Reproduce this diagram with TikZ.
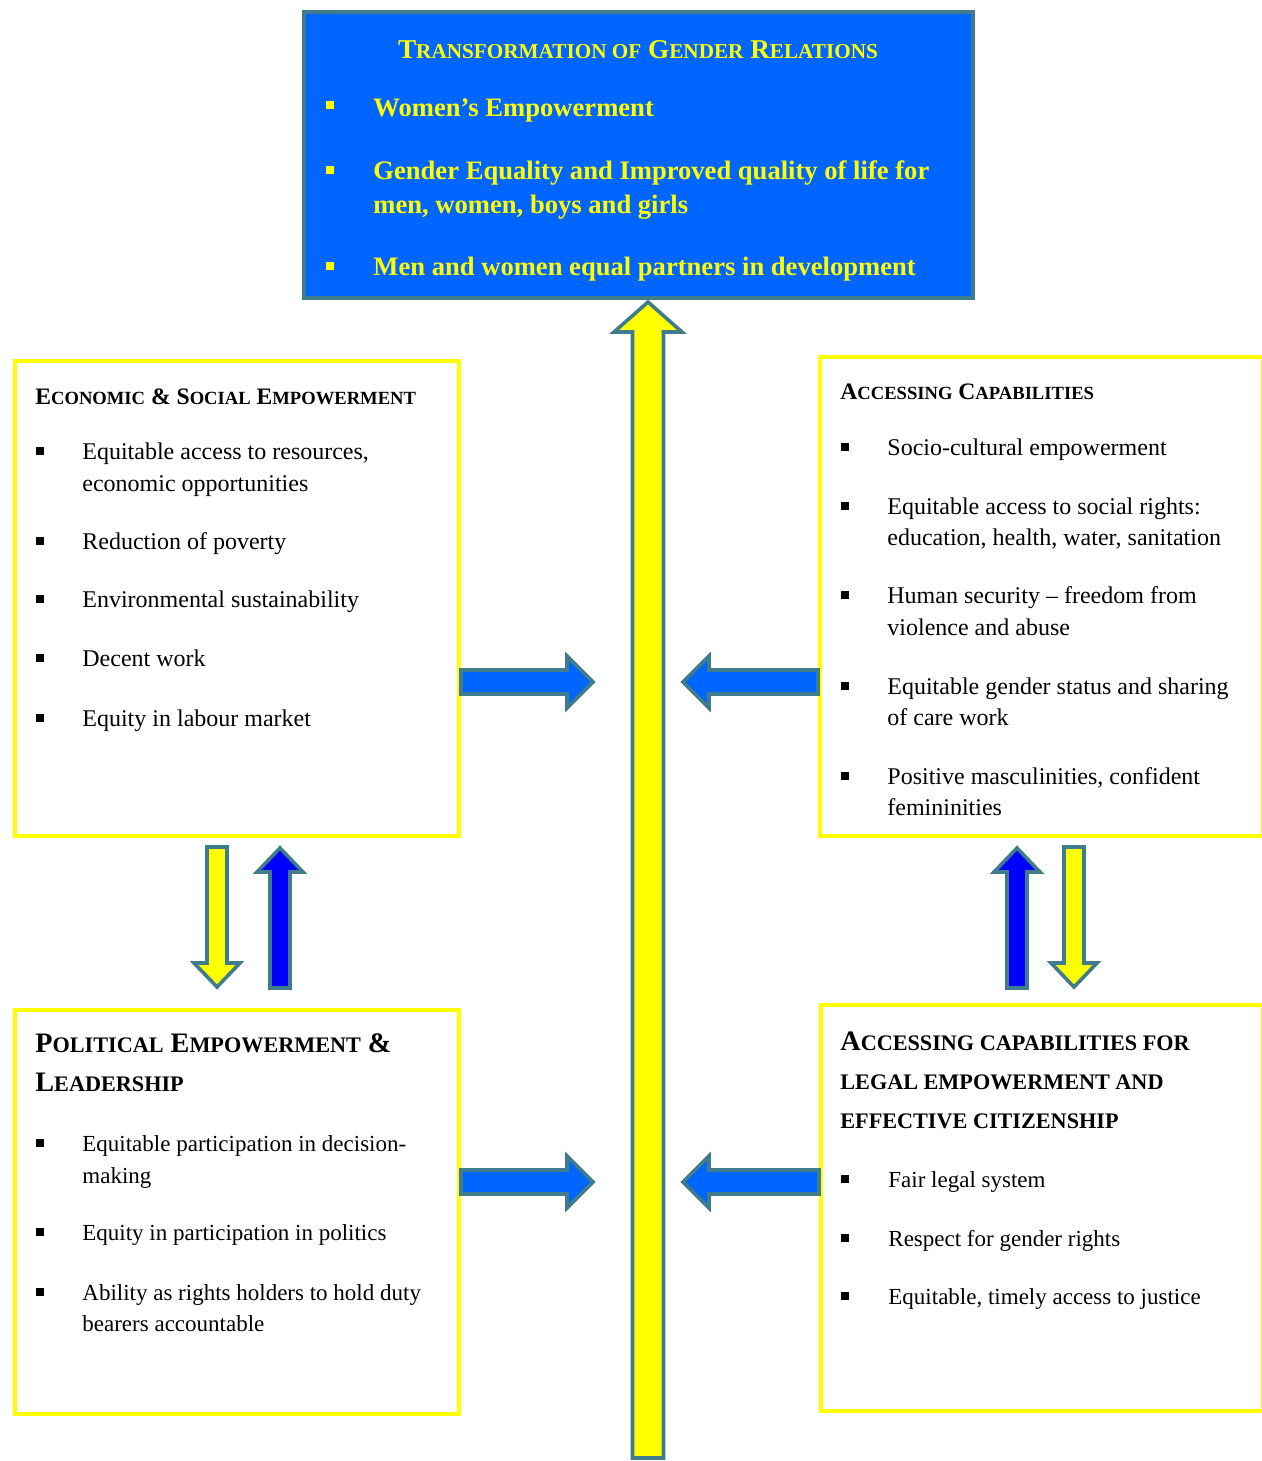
\documentclass[tikz,border=0pt]{standalone}
\usepackage{fontspec}
\setmainfont{Liberation Serif}
\usepackage{tikz}
\usetikzlibrary{positioning, calc}
\usepackage{xcolor}
\definecolor{frameteal}{RGB}{64, 125, 140}
\definecolor{boxblue}{RGB}{0, 102, 255}
\definecolor{deepblue}{RGB}{0, 0, 255}
\definecolor{markyellow}{RGB}{255, 255, 0}

% fake small caps: lower part set in a smaller size
\newcommand{\scsize}{\small}
\newcommand{\smcap}[1]{{\scsize\MakeUppercase{#1}}}

% block arrow from #2 to #3: half shaft #4, half head #5, head length #6
\newcommand{\blockarrow}[6][]{%
  \coordinate (hb) at ($(#3)!#6!(#2)$);
  \draw[#1] ($(#2)!#4!90:(#3)$) -- ($(hb)!#4!90:(#3)$) -- ($(hb)!#5!90:(#3)$) -- (#3)
    -- ($(hb)!#5!-90:(#3)$) -- ($(hb)!#4!-90:(#3)$) -- ($(#2)!#4!-90:(#3)$) -- cycle;
}

\begin{document}
\begin{tikzpicture}[x=0.5pt, y=-0.5pt,
    ybox/.style={draw=markyellow, line width=2pt, fill=white, anchor=north west, inner sep=0pt},
    goalbox/.style={draw=frameteal, line width=2pt, fill=boxblue, anchor=north west, inner sep=0pt},
    flow/.style={draw=frameteal, line width=1.8pt, line join=miter},
    txt/.style={anchor=mid west, inner sep=0pt, yshift=-2pt},
    bodytext/.style={txt, font=\fontsize{12}{14}\selectfont},
    softtext/.style={txt, font=\fontsize{11.5}{14}\selectfont},
    goaltext/.style={txt, text=markyellow, font=\fontsize{13.3}{15}\selectfont\bfseries},
    boxtitle/.style={txt, font=\fontsize{11.8}{13}\selectfont\bfseries\renewcommand{\scsize}{\fontsize{9.3}{10}\selectfont}},
    bigtitle/.style={txt, font=\fontsize{14.1}{15}\selectfont\bfseries\renewcommand{\scsize}{\fontsize{11.1}{12}\selectfont}},
    dot/.style={fill, inner sep=0pt, minimum size=3.8pt}]
  \useasboundingbox (0,0) rectangle (1262,1461);

  % Boxes
  \node[goalbox, minimum width=334.5pt, minimum height=143pt] (goal) at (302,10) {};
  \node[ybox, minimum width=222pt, minimum height=237.5pt] (econ) at (13,359) {};
  \node[ybox, minimum width=221.5pt, minimum height=239.5pt] (capab) at (818,355) {};
  \node[ybox, minimum width=222pt, minimum height=202pt] (polit) at (13,1008) {};
  \node[ybox, minimum width=221pt, minimum height=203pt] (legal) at (819,1003) {};

  % Goal text
  \node[anchor=mid, inner sep=0pt, yshift=-2pt, text=markyellow, font=\fontsize{13.6}{15}\selectfont\bfseries\renewcommand{\scsize}{\fontsize{10.6}{12}\selectfont}] (goal-t) at (638,50)
    {T\smcap{ransformation of} G\smcap{ender} R\smcap{elations}};
  \foreach \y in {105, 170, 266}
    \node[dot, text=markyellow, fill=markyellow] (goal-b\y) at (330,\y) {};
  \foreach \y/\t [count=\i] in {108/{Women’s Empowerment}, 171/{Gender Equality and Improved quality of life for},
      205/{men, women, boys and girls}, 267/{Men and women equal partners in development}}
    \node[goaltext] (goal-\i) at (373,\y) {\t};

  % Economic & social
  \node[boxtitle] (econ-t) at (35,396) {E\smcap{conomic} \& S\smcap{ocial} E\smcap{mpowerment}};
  \foreach \y in {451, 541, 599, 658, 718}
    \node[dot] (econ-b\y) at (40,\y) {};
  \foreach \y/\t [count=\i] in {451/{Equitable access to resources,}, 483/{economic opportunities},
      541/{Reduction of poverty}, 599/{Environmental sustainability}, 658/{Decent work},
      718/{Equity in labour market}}
    \node[bodytext] (econ-\i) at (82,\y) {\t};

  % Capabilities
  \node[boxtitle] (capab-t) at (840,391) {A\smcap{ccessing} C\smcap{apabilities}};
  \foreach \y in {447, 506, 595, 686, 776}
    \node[dot] (capab-b\y) at (845,\y) {};
  \foreach \y/\t [count=\i] in {447/{Socio-cultural empowerment}, 506/{Equitable access to social rights:},
      537/{education, health, water, sanitation}, 595/{Human security -- freedom from},
      627/{violence and abuse}, 686/{Equitable gender status and sharing}, 717/{of care work},
      776/{Positive masculinities, confident}, 807/{femininities}}
    \node[bodytext] (capab-\i) at (887,\y) {\t};

  % Political
  \node[bigtitle] (polit-t1) at (35,1044) {P\smcap{olitical} E\smcap{mpowerment} \&};
  \node[bigtitle] (polit-t2) at (35,1083) {L\smcap{eadership}};
  \foreach \y in {1143, 1232, 1292}
    \node[dot] (polit-b\y) at (40,\y) {};
  \foreach \y/\t [count=\i] in {1143/{Equitable participation in decision-}, 1175/{making},
      1232/{Equity in participation in politics}, 1292/{Ability as rights holders to hold duty},
      1323/{bearers accountable}}
    \node[softtext] (polit-\i) at (82,\y) {\t};

  % Legal
  \node[bigtitle] (legal-t1) at (840,1042) {A\smcap{ccessing capabilities for}};
  \node[bigtitle] (legal-t2) at (840,1081) {\smcap{legal empowerment and}};
  \node[bigtitle] (legal-t3) at (840,1120) {\smcap{effective citizenship}};
  \foreach \y in {1179, 1238, 1296}
    \node[dot] (legal-b\y) at (845,\y) {};
  \foreach \y/\t [count=\i] in {1179/{Fair legal system}, 1238/{Respect for gender rights},
      1296/{Equitable, timely access to justice}}
    \node[softtext] (legal-\i) at (888,\y) {\t};

  % Central arrow
  \coordinate (foot) at (648,1458);
  \coordinate (top) at (648,302);
  \blockarrow[flow, fill=markyellow]{foot}{top}{7.75pt}{17pt}{15pt}

  % Side arrows
  \coordinate (econ-out) at (econ.east |- 0,682);
  \coordinate (econ-in) at (593,682);
  \coordinate (capab-out) at (capab.west |- 0,682);
  \coordinate (capab-in) at (683,682);
  \coordinate (polit-out) at (polit.east |- 0,1182);
  \coordinate (polit-in) at (593,1182);
  \coordinate (legal-out) at (legal.west |- 0,1182);
  \coordinate (legal-in) at (683,1182);
  \foreach \a/\b in {econ-out/econ-in, capab-out/capab-in, polit-out/polit-in, legal-out/legal-in}{
    \blockarrow[flow, fill=boxblue]{\a}{\b}{6pt}{13pt}{13pt}
  }

  % Up and down arrows
  \coordinate (l-down-s) at (217,847);
  \coordinate (l-down-e) at (217,987);
  \coordinate (l-up-s) at (280,988);
  \coordinate (l-up-e) at (280,848);
  \coordinate (r-up-s) at (1017,988);
  \coordinate (r-up-e) at (1017,848);
  \coordinate (r-down-s) at (1074,847);
  \coordinate (r-down-e) at (1074,987);
  \blockarrow[flow, fill=markyellow]{l-down-s}{l-down-e}{5pt}{11.5pt}{12pt}
  \blockarrow[flow, fill=deepblue]{l-up-s}{l-up-e}{5pt}{11.5pt}{12pt}
  \blockarrow[flow, fill=deepblue]{r-up-s}{r-up-e}{5pt}{11.5pt}{12pt}
  \blockarrow[flow, fill=markyellow]{r-down-s}{r-down-e}{5pt}{11.5pt}{12pt}
\end{tikzpicture}
\end{document}
